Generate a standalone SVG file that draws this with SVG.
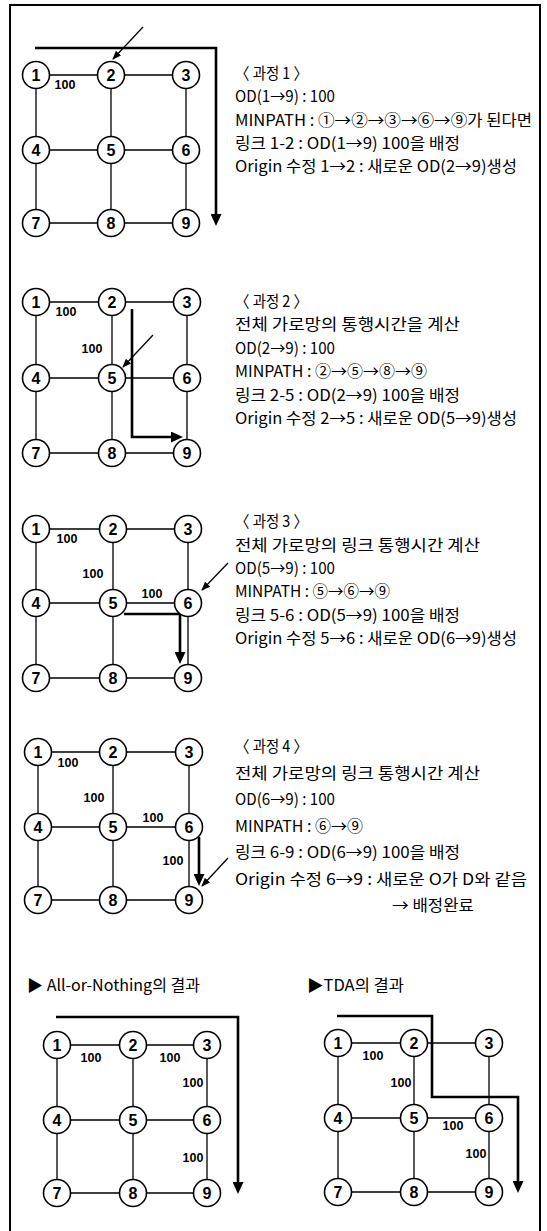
<svg xmlns="http://www.w3.org/2000/svg" width="547" height="1231" viewBox="0 0 547 1231">
<style>
.frame{fill:none;stroke:#000;stroke-width:2}
.link{fill:none;stroke:#000;stroke-width:1.3}
.flow{fill:none;stroke:#000;stroke-width:2.6}
.ptr{fill:none;stroke:#000;stroke-width:1.3}
.node circle{fill:#fff;stroke:#000;stroke-width:1.6}
.node text{font-family:"Liberation Sans",Arial,sans-serif;font-weight:bold;font-size:16px;text-anchor:middle}
.lbl{font-family:"Liberation Sans",Arial,sans-serif;font-weight:bold;font-size:12.5px;text-anchor:middle}
.txt{font-family:"Noto Sans CJK KR","Liberation Sans",sans-serif;font-size:16px}
.ttl{font-family:"Noto Sans CJK KR","Liberation Sans",sans-serif;font-size:16px}
</style>
<defs>
<marker id="ah" markerWidth="12" markerHeight="11" refX="4" refY="5.5" orient="auto" markerUnits="userSpaceOnUse"><path d="M0,0L12,5.5L0,11z" fill="#000"/></marker>
<marker id="ph" markerWidth="9" markerHeight="7" refX="8" refY="3.5" orient="auto" markerUnits="userSpaceOnUse"><path d="M0,0L9,3.5L0,7z" fill="#000"/></marker>
</defs>
<path class="frame" d="M10,1231V5H540V1231"/>
<g id="connectors">
<path class="link" d="M36,75H186M36,150H186M36,223H186M36,75V223M111,75V223M186,75V223"/>
<path class="link" d="M36,302H187M36,378H187M36,453H187M36,302V453M112,302V453M187,302V453"/>
<path class="link" d="M36,529H188M36,603H188M36,678H188M36,529V678M113,529V678M188,529V678"/>
<path class="link" d="M38,752H189M38,827H189M38,900H189M38,752V900M113,752V900M189,752V900"/>
<path class="link" d="M57,1045H207M57,1120H207M57,1193H207M57,1045V1193M133,1045V1193M207,1045V1193"/>
<path class="link" d="M338,1043H489M338,1118H489M338,1192H489M338,1043V1192M414,1043V1192M489,1043V1192"/>
<path class="flow" marker-end="url(#ah)" d="M35,48H216V218"/>
<path class="flow" marker-end="url(#ah)" d="M132,309V437H175"/>
<path class="flow" marker-end="url(#ah)" d="M124,614H180V656"/>
<path class="flow" marker-end="url(#ah)" d="M199,837V878"/>
<path class="flow" marker-end="url(#ah)" d="M56,1017H238V1186"/>
<path class="flow" marker-end="url(#ah)" d="M337,1016H432V1097H518V1185"/>
<path class="ptr" marker-end="url(#ph)" d="M143,27L113,59"/>
<path class="ptr" marker-end="url(#ph)" d="M153,335L123,367"/>
<path class="ptr" marker-end="url(#ph)" d="M228,563L202,590"/>
<path class="ptr" marker-end="url(#ph)" d="M228,858L202,886"/>
</g>
<g id="g1">
<g id="g1-n1" class="node"><circle cx="36" cy="75" r="13.5"/><text x="36" y="81">1</text></g>
<g id="g1-n2" class="node"><circle cx="111" cy="75" r="13.5"/><text x="111" y="81">2</text></g>
<g id="g1-n3" class="node"><circle cx="186" cy="75" r="13.5"/><text x="186" y="81">3</text></g>
<g id="g1-n4" class="node"><circle cx="36" cy="150" r="13.5"/><text x="36" y="156">4</text></g>
<g id="g1-n5" class="node"><circle cx="111" cy="150" r="13.5"/><text x="111" y="156">5</text></g>
<g id="g1-n6" class="node"><circle cx="186" cy="150" r="13.5"/><text x="186" y="156">6</text></g>
<g id="g1-n7" class="node"><circle cx="36" cy="223" r="13.5"/><text x="36" y="229">7</text></g>
<g id="g1-n8" class="node"><circle cx="111" cy="223" r="13.5"/><text x="111" y="229">8</text></g>
<g id="g1-n9" class="node"><circle cx="186" cy="223" r="13.5"/><text x="186" y="229">9</text></g>
<text class="lbl" x="65" y="89">100</text>
</g>
<g id="g2">
<g id="g2-n1" class="node"><circle cx="36" cy="302" r="13.5"/><text x="36" y="308">1</text></g>
<g id="g2-n2" class="node"><circle cx="112" cy="302" r="13.5"/><text x="112" y="308">2</text></g>
<g id="g2-n3" class="node"><circle cx="187" cy="302" r="13.5"/><text x="187" y="308">3</text></g>
<g id="g2-n4" class="node"><circle cx="36" cy="378" r="13.5"/><text x="36" y="384">4</text></g>
<g id="g2-n5" class="node"><circle cx="112" cy="378" r="13.5"/><text x="112" y="384">5</text></g>
<g id="g2-n6" class="node"><circle cx="187" cy="378" r="13.5"/><text x="187" y="384">6</text></g>
<g id="g2-n7" class="node"><circle cx="36" cy="453" r="13.5"/><text x="36" y="459">7</text></g>
<g id="g2-n8" class="node"><circle cx="112" cy="453" r="13.5"/><text x="112" y="459">8</text></g>
<g id="g2-n9" class="node"><circle cx="187" cy="453" r="13.5"/><text x="187" y="459">9</text></g>
<text class="lbl" x="66" y="316">100</text>
<text class="lbl" x="92" y="353">100</text>
</g>
<g id="g3">
<g id="g3-n1" class="node"><circle cx="36" cy="529" r="13.5"/><text x="36" y="535">1</text></g>
<g id="g3-n2" class="node"><circle cx="113" cy="529" r="13.5"/><text x="113" y="535">2</text></g>
<g id="g3-n3" class="node"><circle cx="188" cy="529" r="13.5"/><text x="188" y="535">3</text></g>
<g id="g3-n4" class="node"><circle cx="36" cy="603" r="13.5"/><text x="36" y="609">4</text></g>
<g id="g3-n5" class="node"><circle cx="113" cy="603" r="13.5"/><text x="113" y="609">5</text></g>
<g id="g3-n6" class="node"><circle cx="188" cy="603" r="13.5"/><text x="188" y="609">6</text></g>
<g id="g3-n7" class="node"><circle cx="36" cy="678" r="13.5"/><text x="36" y="684">7</text></g>
<g id="g3-n8" class="node"><circle cx="113" cy="678" r="13.5"/><text x="113" y="684">8</text></g>
<g id="g3-n9" class="node"><circle cx="188" cy="678" r="13.5"/><text x="188" y="684">9</text></g>
<text class="lbl" x="67" y="543">100</text>
<text class="lbl" x="93" y="578">100</text>
<text class="lbl" x="152" y="598">100</text>
</g>
<g id="g4">
<g id="g4-n1" class="node"><circle cx="38" cy="752" r="13.5"/><text x="38" y="758">1</text></g>
<g id="g4-n2" class="node"><circle cx="113" cy="752" r="13.5"/><text x="113" y="758">2</text></g>
<g id="g4-n3" class="node"><circle cx="189" cy="752" r="13.5"/><text x="189" y="758">3</text></g>
<g id="g4-n4" class="node"><circle cx="38" cy="827" r="13.5"/><text x="38" y="833">4</text></g>
<g id="g4-n5" class="node"><circle cx="113" cy="827" r="13.5"/><text x="113" y="833">5</text></g>
<g id="g4-n6" class="node"><circle cx="189" cy="827" r="13.5"/><text x="189" y="833">6</text></g>
<g id="g4-n7" class="node"><circle cx="38" cy="900" r="13.5"/><text x="38" y="906">7</text></g>
<g id="g4-n8" class="node"><circle cx="113" cy="900" r="13.5"/><text x="113" y="906">8</text></g>
<g id="g4-n9" class="node"><circle cx="189" cy="900" r="13.5"/><text x="189" y="906">9</text></g>
<text class="lbl" x="68" y="767">100</text>
<text class="lbl" x="94" y="802">100</text>
<text class="lbl" x="153" y="822">100</text>
<text class="lbl" x="173" y="865">100</text>
</g>
<g id="g5">
<g id="g5-n1" class="node"><circle cx="57" cy="1045" r="13.5"/><text x="57" y="1051">1</text></g>
<g id="g5-n2" class="node"><circle cx="133" cy="1045" r="13.5"/><text x="133" y="1051">2</text></g>
<g id="g5-n3" class="node"><circle cx="207" cy="1045" r="13.5"/><text x="207" y="1051">3</text></g>
<g id="g5-n4" class="node"><circle cx="57" cy="1120" r="13.5"/><text x="57" y="1126">4</text></g>
<g id="g5-n5" class="node"><circle cx="133" cy="1120" r="13.5"/><text x="133" y="1126">5</text></g>
<g id="g5-n6" class="node"><circle cx="207" cy="1120" r="13.5"/><text x="207" y="1126">6</text></g>
<g id="g5-n7" class="node"><circle cx="57" cy="1193" r="13.5"/><text x="57" y="1199">7</text></g>
<g id="g5-n8" class="node"><circle cx="133" cy="1193" r="13.5"/><text x="133" y="1199">8</text></g>
<g id="g5-n9" class="node"><circle cx="207" cy="1193" r="13.5"/><text x="207" y="1199">9</text></g>
<text class="lbl" x="91" y="1062">100</text>
<text class="lbl" x="170" y="1062">100</text>
<text class="lbl" x="193" y="1087">100</text>
<text class="lbl" x="193" y="1162">100</text>
</g>
<g id="g6">
<g id="g6-n1" class="node"><circle cx="338" cy="1043" r="13.5"/><text x="338" y="1049">1</text></g>
<g id="g6-n2" class="node"><circle cx="414" cy="1043" r="13.5"/><text x="414" y="1049">2</text></g>
<g id="g6-n3" class="node"><circle cx="489" cy="1043" r="13.5"/><text x="489" y="1049">3</text></g>
<g id="g6-n4" class="node"><circle cx="338" cy="1118" r="13.5"/><text x="338" y="1124">4</text></g>
<g id="g6-n5" class="node"><circle cx="414" cy="1118" r="13.5"/><text x="414" y="1124">5</text></g>
<g id="g6-n6" class="node"><circle cx="489" cy="1118" r="13.5"/><text x="489" y="1124">6</text></g>
<g id="g6-n7" class="node"><circle cx="338" cy="1192" r="13.5"/><text x="338" y="1198">7</text></g>
<g id="g6-n8" class="node"><circle cx="414" cy="1192" r="13.5"/><text x="414" y="1198">8</text></g>
<g id="g6-n9" class="node"><circle cx="489" cy="1192" r="13.5"/><text x="489" y="1198">9</text></g>
<text class="lbl" x="373" y="1060">100</text>
<text class="lbl" x="401" y="1087">100</text>
<text class="lbl" x="453" y="1130">100</text>
<text class="lbl" x="476" y="1158">100</text>
</g>
<g id="text1" class="txt">
<text x="235" y="79" textLength="73" lengthAdjust="spacingAndGlyphs">〈 과정 1 〉</text>
<text x="235" y="102" textLength="100" lengthAdjust="spacingAndGlyphs">OD(1→9) : 100</text>
<text x="235" y="126" textLength="297" lengthAdjust="spacingAndGlyphs">MINPATH : ①→②→③→⑥→⑨가 된다면</text>
<text x="235" y="149" textLength="225" lengthAdjust="spacingAndGlyphs">링크 1-2 : OD(1→9) 100을 배정</text>
<text x="235" y="172" textLength="282" lengthAdjust="spacingAndGlyphs">Origin 수정 1→2 : 새로운 OD(2→9)생성</text>
</g>
<g id="text2" class="txt">
<text x="235" y="307" textLength="73" lengthAdjust="spacingAndGlyphs">〈 과정 2 〉</text>
<text x="235" y="330" textLength="225" lengthAdjust="spacingAndGlyphs">전체 가로망의 통행시간을 계산</text>
<text x="235" y="354" textLength="100" lengthAdjust="spacingAndGlyphs">OD(2→9) : 100</text>
<text x="235" y="377" textLength="192" lengthAdjust="spacingAndGlyphs">MINPATH : ②→⑤→⑧→⑨</text>
<text x="235" y="401" textLength="225" lengthAdjust="spacingAndGlyphs">링크 2-5 : OD(2→9) 100을 배정</text>
<text x="235" y="424" textLength="282" lengthAdjust="spacingAndGlyphs">Origin 수정 2→5 : 새로운 OD(5→9)생성</text>
</g>
<g id="text3" class="txt">
<text x="235" y="527" textLength="73" lengthAdjust="spacingAndGlyphs">〈 과정 3 〉</text>
<text x="235" y="551" textLength="245" lengthAdjust="spacingAndGlyphs">전체 가로망의 링크 통행시간 계산</text>
<text x="235" y="574" textLength="100" lengthAdjust="spacingAndGlyphs">OD(5→9) : 100</text>
<text x="235" y="597" textLength="155" lengthAdjust="spacingAndGlyphs">MINPATH : ⑤→⑥→⑨</text>
<text x="235" y="621" textLength="225" lengthAdjust="spacingAndGlyphs">링크 5-6 : OD(5→9) 100을 배정</text>
<text x="235" y="644" textLength="282" lengthAdjust="spacingAndGlyphs">Origin 수정 5→6 : 새로운 OD(6→9)생성</text>
</g>
<g id="text4" class="txt">
<text x="235" y="752" textLength="73" lengthAdjust="spacingAndGlyphs">〈 과정 4 〉</text>
<text x="235" y="779" textLength="245" lengthAdjust="spacingAndGlyphs">전체 가로망의 링크 통행시간 계산</text>
<text x="235" y="805" textLength="100" lengthAdjust="spacingAndGlyphs">OD(6→9) : 100</text>
<text x="235" y="832" textLength="128" lengthAdjust="spacingAndGlyphs">MINPATH : ⑥→⑨</text>
<text x="235" y="858" textLength="225" lengthAdjust="spacingAndGlyphs">링크 6-9 : OD(6→9) 100을 배정</text>
<text x="235" y="885" textLength="292" lengthAdjust="spacingAndGlyphs">Origin 수정 6→9 : 새로운 O가 D와 같음</text>
<text x="392" y="911" textLength="82" lengthAdjust="spacingAndGlyphs">→ 배정완료</text>
</g>
<g id="titles" class="ttl">
<text x="27" y="991" textLength="173" lengthAdjust="spacingAndGlyphs">▶ All-or-Nothing의 결과</text>
<text x="307" y="991" textLength="97" lengthAdjust="spacingAndGlyphs">▶TDA의 결과</text>
</g>
</svg>
